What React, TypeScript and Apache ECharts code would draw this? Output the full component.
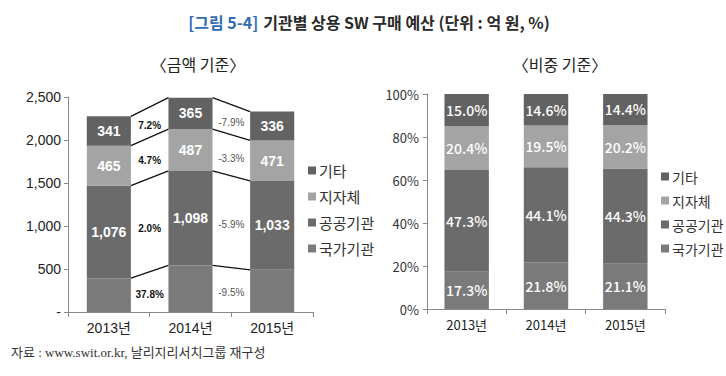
import React, { useEffect, useRef } from "react";
import * as echarts from "echarts";

const years = ["2013년", "2014년", "2015년"];
const seriesNames = ["국가기관", "공공기관", "지자체", "기타"];
const legendOrder = ["기타", "지자체", "공공기관", "국가기관"];

// 금액 기준 (억 원)
const amtNational = [393, 542, 491];
const amtPublic = [1076, 1098, 1033];
const amtLocal = [465, 487, 471];
const amtOther = [341, 365, 336];

// 비중 기준 (%)
const pctNational = [17.3, 21.8, 21.1];
const pctPublic = [47.3, 44.1, 44.3];
const pctLocal = [20.4, 19.5, 20.2];
const pctOther = [15.0, 14.6, 14.4];

// growth labels between years, bottom-up: 국가기관, 공공기관, 지자체, 기타
const growth2014 = ["37.8%", "2.0%", "4.7%", "7.2%"];
const growth2015 = ["-9.5%", "-5.9%", "-3.3%", "-7.9%"];

const colors = {
  국가기관: "#7a7a7a",
  공공기관: "#6b6b6b",
  지자체: "#a4a4a4",
  기타: "#626262",
};

const LEFT_BAR = 0.54;

export default function App() {
  const ref = useRef<HTMLDivElement>(null);

  useEffect(() => {
    if (!ref.current) return;
    const chart = echarts.init(ref.current, null, { renderer: "svg" });

    const amtSeries = [amtNational, amtPublic, amtLocal, amtOther];
    const pctSeries = [pctNational, pctPublic, pctLocal, pctOther];

    const levels = years.map((_, yi) => {
      const arr = [0];
      let s = 0;
      amtSeries.forEach((ser) => {
        s += ser[yi];
        arr.push(s);
      });
      return arr;
    });

    const connectorData: number[][] = [];
    for (let g = 0; g < 2; g++) {
      for (let k = 1; k <= 4; k++) {
        connectorData.push([g, levels[g][k], levels[g + 1][k]]);
      }
    }

    const growthData: any[] = [];
    for (let g = 0; g < 2; g++) {
      const labels = g === 0 ? growth2014 : growth2015;
      for (let k = 0; k < 4; k++) {
        growthData.push([
          g,
          levels[g][k],
          levels[g][k + 1],
          levels[g + 1][k],
          levels[g + 1][k + 1],
          labels[k],
        ]);
      }
    }

    const leftFont = "'Liberation Sans', Arial, 'Noto Sans CJK KR', sans-serif";
    const rightFont = "'Noto Sans CJK KR', 'Noto Sans', sans-serif";

    const leftBars = seriesNames.map((name, i) => ({
      name,
      type: "bar",
      stack: "amt",
      xAxisIndex: 0,
      yAxisIndex: 0,
      barWidth: LEFT_BAR * 100 + "%",
      itemStyle: { color: (colors as any)[name] },
      data: amtSeries[i],
      label: {
        show: i > 0,
        position: "inside",
        color: "#ffffff",
        fontWeight: "bold",
        fontSize: 14,
        fontFamily: leftFont,
        formatter: (p: any) => Number(p.value).toLocaleString("en-US"),
      },
    }));

    const rightBars = seriesNames.map((name, i) => ({
      name,
      type: "bar",
      stack: "pct",
      xAxisIndex: 1,
      yAxisIndex: 1,
      barWidth: "56%",
      itemStyle: { color: (colors as any)[name] },
      data: pctSeries[i],
      label: {
        show: true,
        position: "inside",
        color: "#ffffff",
        fontSize: 14,
        fontWeight: 500,
        fontFamily: rightFont,
        formatter: (p: any) => Number(p.value).toFixed(1) + "%",
      },
    }));

    const connectors = {
      type: "custom",
      xAxisIndex: 0,
      yAxisIndex: 0,
      silent: true,
      z: 5,
      encode: { x: 0, y: 1 },
      data: connectorData,
      renderItem: (params: any, api: any) => {
        const g = api.value(0);
        const p1 = api.coord([g, api.value(1)]);
        const p2 = api.coord([g + 1, api.value(2)]);
        const band = api.size([1, 0])[0];
        const half = (band * LEFT_BAR) / 2;
        return {
          type: "line",
          shape: { x1: p1[0] + half, y1: p1[1], x2: p2[0] - half, y2: p2[1] },
          style: { stroke: "#111111", lineWidth: 1.3 },
        };
      },
    };

    const growthLabels = {
      type: "custom",
      xAxisIndex: 0,
      yAxisIndex: 0,
      silent: true,
      z: 6,
      encode: { x: 0, y: 1 },
      data: growthData,
      renderItem: (params: any, api: any) => {
        const g = api.value(0);
        const a1 = api.coord([g, api.value(1)]);
        const a2 = api.coord([g, api.value(2)]);
        const b1 = api.coord([g + 1, api.value(3)]);
        const b2 = api.coord([g + 1, api.value(4)]);
        const x = (a1[0] + b1[0]) / 2;
        const y = (a1[1] + a2[1] + b1[1] + b2[1]) / 4 + 3;
        const text = growthData[params.dataIndex][5];
        return {
          type: "text",
          x,
          y,
          style: {
            text,
            align: "center",
            verticalAlign: "middle",
            fill: g === 0 ? "#111111" : "#555555",
            font:
              (g === 0 ? "bold " : "") +
              "10px 'Liberation Sans', Arial, sans-serif",
          },
        };
      },
    };

    const option: any = {
      animation: false,
      backgroundColor: "#ffffff",
      title: [
        {
          text: "{a|[그림 5-4]} {b|기관별 상용 SW 구매 예산 (단위 : 억 원, %)}",
          left: 364,
          top: 8,
          textAlign: "center",
          textStyle: {
            rich: {
              a: {
                color: "#2f6db3",
                fontSize: 16,
                fontFamily: rightFont,
                fontWeight: "bold",
              },
              b: {
                color: "#2a2a2a",
                fontSize: 16,
                fontFamily: rightFont,
                fontWeight: "bold",
              },
            },
          },
        },
        {
          text: "〈금액 기준〉",
          left: 193,
          top: 51,
          textAlign: "center",
          textStyle: { fontSize: 16, fontWeight: "normal", color: "#222", fontFamily: rightFont },
        },
        {
          text: "〈비중 기준〉",
          left: 555,
          top: 51,
          textAlign: "center",
          textStyle: { fontSize: 16, fontWeight: "normal", color: "#222", fontFamily: rightFont },
        },
      ],
      legend: [
        {
          orient: "vertical",
          left: 303,
          top: 157,
          data: legendOrder,
          icon: "rect",
          itemWidth: 8,
          itemHeight: 8,
          itemGap: 9,
          selectedMode: false,
          textStyle: { fontSize: 15, color: "#333", fontFamily: rightFont, lineHeight: 17, padding: [0, 0, 0, -2] },
        },
        {
          orient: "vertical",
          left: 656,
          top: 163,
          data: legendOrder,
          icon: "rect",
          itemWidth: 8,
          itemHeight: 8,
          itemGap: 7,
          selectedMode: false,
          textStyle: { fontSize: 14, color: "#333", fontFamily: rightFont, lineHeight: 17, padding: [0, 0, 0, -2] },
        },
      ],
      grid: [
        { left: 68, right: 413, top: 97, bottom: 64 },
        { left: 427, right: 61, top: 94, bottom: 67 },
      ],
      xAxis: [
        {
          type: "category",
          gridIndex: 0,
          data: years,
          axisLine: { lineStyle: { color: "#888", width: 1 } },
          axisTick: { show: true, length: 5, lineStyle: { color: "#888" } },
          axisLabel: { color: "#222", fontSize: 14, fontFamily: leftFont, margin: 9 },
        },
        {
          type: "category",
          gridIndex: 1,
          data: years,
          axisLine: { lineStyle: { color: "#888", width: 1 } },
          axisTick: { show: true, length: 5, lineStyle: { color: "#888" } },
          axisLabel: { color: "#222", fontSize: 13, fontFamily: rightFont, margin: 9 },
        },
      ],
      yAxis: [
        {
          type: "value",
          gridIndex: 0,
          min: 0,
          max: 2500,
          interval: 500,
          splitLine: { show: false },
          axisLine: { show: true, lineStyle: { color: "#888" } },
          axisTick: { show: true, length: 4, lineStyle: { color: "#888" } },
          axisLabel: {
            color: "#222",
            fontSize: 14,
            fontFamily: leftFont,
            margin: 7,
            formatter: (v: number) => (v === 0 ? "-" : v.toLocaleString("en-US")),
          },
        },
        {
          type: "value",
          gridIndex: 1,
          min: 0,
          max: 100,
          interval: 20,
          splitLine: { show: false },
          axisLine: { show: true, lineStyle: { color: "#888" } },
          axisTick: { show: true, length: 4, lineStyle: { color: "#888" } },
          axisLabel: {
            color: "#333",
            fontSize: 13,
            fontFamily: rightFont,
            margin: 8,
            formatter: (v: number) => v + "%",
          },
        },
      ],
      graphic: [
        {
          type: "text",
          left: 11,
          top: 346,
          style: {
            text: "자료 : www.swit.or.kr, 날리지리서치그룹 재구성",
            fill: "#333",
            font: "13px 'Liberation Serif', 'DejaVu Serif', 'Noto Sans CJK KR', serif",
          },
        },
      ],
      series: [...leftBars, ...rightBars, connectors, growthLabels],
    };

    chart.setOption(option);
    return () => chart.dispose();
  }, []);

  return (
    <div
      ref={ref}
      style={{ position: "fixed", left: 0, top: 0, width: 726, height: 376 }}
    />
  );
}
